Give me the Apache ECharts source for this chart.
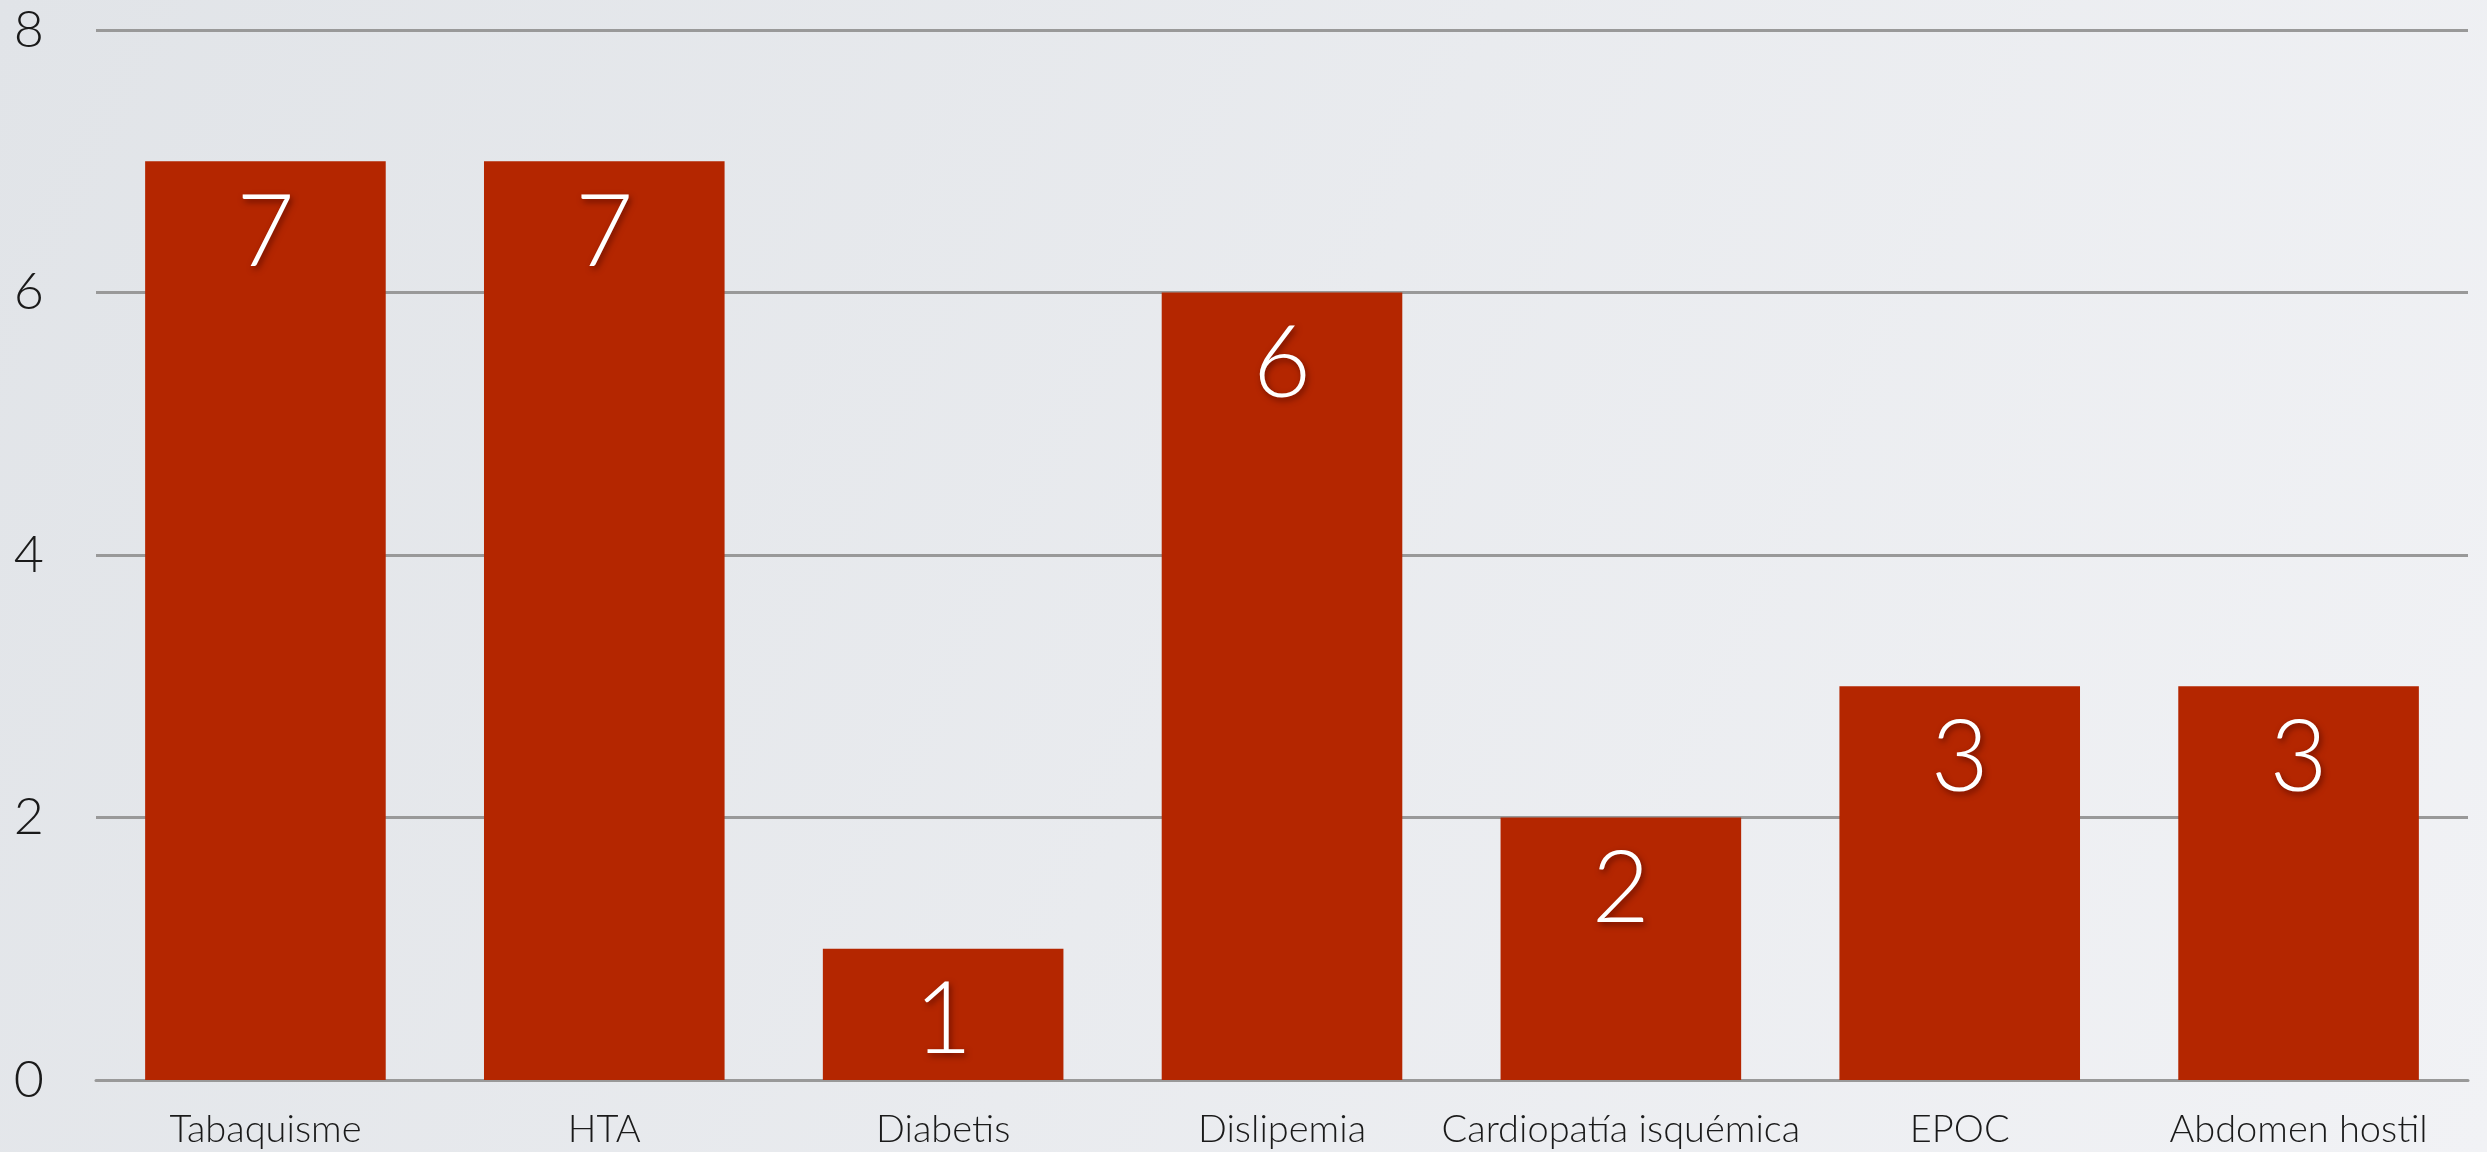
<!DOCTYPE html>
<html>
<head>
<meta charset="utf-8">
<script src="https://cdn.jsdelivr.net/npm/echarts@6/dist/echarts.min.js"></script>
<style>
  html, body { margin: 0; padding: 0; }
  #chart { width: 2487px; height: 1152px; }
</style>
</head>
<body>
<div id="chart"></div>
<script>
const categories = ['Tabaquisme', 'HTA', 'Diabetis', 'Dislipemia', 'Cardiopatía isquémica', 'EPOC', 'Abdomen hostil'];
const values = [7, 7, 1, 6, 2, 3, 3];

const chart = echarts.init(document.getElementById('chart'), undefined, { renderer: 'canvas' });

chart.setOption({
  backgroundColor: new echarts.graphic.LinearGradient(0, 0, 1, 1, [
    { offset: 0, color: '#e1e4e8' },
    { offset: 1, color: '#f1f2f5' }
  ]),
  animation: false,
  grid: { left: 96, right: 19, top: 30, bottom: 72, containLabel: false },
  xAxis: {
    type: 'category',
    data: categories,
    axisTick: { show: false },
    axisLine: { lineStyle: { color: '#999999', width: 3 } },
    axisLabel: {
      interval: 0,
      color: '#1a1a1a',
      fontSize: 38,
      fontFamily: 'Lato',
      fontWeight: 300,
      margin: 31
    }
  },
  yAxis: {
    type: 'value',
    min: 0,
    max: 8,
    interval: 2,
    axisLine: { show: false },
    axisTick: { show: false },
    splitLine: { lineStyle: { color: '#999999', width: 3 } },
    axisLabel: {
      color: '#1a1a1a',
      fontSize: 52,
      fontFamily: 'Lato',
      fontWeight: 300,
      margin: 52
    }
  },
  series: [{
    type: 'bar',
    data: values,
    barCategoryGap: '29%',
    itemStyle: { color: '#b42600' },
    label: {
      show: true,
      position: 'insideTop',
      distance: 22,
      color: '#ffffff',
      fontSize: 100,
      fontFamily: 'Lato',
      fontWeight: 300,
      textShadowColor: 'rgba(60,0,0,0.6)',
      textShadowBlur: 6,
      textShadowOffsetX: 2,
      textShadowOffsetY: 3
    }
  }]
});
</script>
</body>
</html>
